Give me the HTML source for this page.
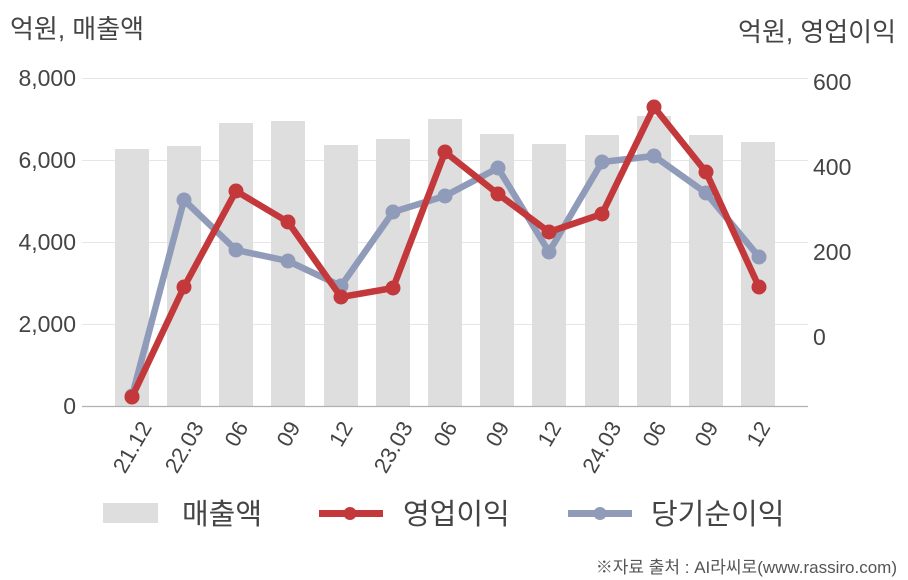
<!DOCTYPE html>
<html>
<head>
<meta charset="utf-8">
<style>
  html, body { margin: 0; padding: 0; background: #ffffff; }
  svg { display: block; }
  text { font-family: "Liberation Sans", "Noto Sans CJK KR", sans-serif; fill: #444444; }
</style>
</head>
<body>
<svg width="908" height="580" viewBox="0 0 908 580" xmlns="http://www.w3.org/2000/svg">
  <rect x="0" y="0" width="908" height="580" fill="#ffffff"/>

  <!-- titles -->
  <text x="10" y="38" font-size="26">억원, 매출액</text>
  <text x="896" y="41" font-size="26" text-anchor="end">억원, 영업이익</text>

  <!-- gridlines -->
  <g stroke="#e6e6e6" stroke-width="1">
    <line x1="82" y1="78.5" x2="808" y2="78.5"/>
    <line x1="82" y1="160.5" x2="808" y2="160.5"/>
    <line x1="82" y1="242.5" x2="808" y2="242.5"/>
    <line x1="82" y1="324.5" x2="808" y2="324.5"/>
  </g>

  <!-- left ticks -->
  <g font-size="23" text-anchor="end">
    <text x="76" y="86">8,000</text>
    <text x="76" y="168">6,000</text>
    <text x="76" y="250">4,000</text>
    <text x="76" y="332">2,000</text>
    <text x="76" y="414">0</text>
  </g>
  <!-- right ticks -->
  <g font-size="23">
    <text x="813" y="90">600</text>
    <text x="813" y="175">400</text>
    <text x="813" y="260">200</text>
    <text x="813" y="345">0</text>
  </g>

  <!-- bars -->
  <g fill="#dedede">
    <rect x="115" y="149" width="34" height="257"/>
    <rect x="167" y="146" width="34" height="260"/>
    <rect x="219" y="123" width="34" height="283"/>
    <rect x="271" y="121" width="34" height="285"/>
    <rect x="324" y="145" width="34" height="261"/>
    <rect x="376" y="139" width="34" height="267"/>
    <rect x="428" y="119" width="34" height="287"/>
    <rect x="480" y="134" width="34" height="272"/>
    <rect x="532" y="144" width="34" height="262"/>
    <rect x="585" y="135" width="34" height="271"/>
    <rect x="637" y="116" width="34" height="290"/>
    <rect x="689" y="135" width="34" height="271"/>
    <rect x="741" y="142" width="34" height="264"/>
  </g>

  <!-- baseline -->
  <line x1="82" y1="406.5" x2="808" y2="406.5" stroke="#b0b0b0" stroke-width="1.2"/>

  <!-- net income (blue) -->
  <polyline fill="none" stroke="#8f9bb8" stroke-width="6.5" stroke-linejoin="round"
    points="132,396 184,200 236,250 288,261 341,286 393,212 445,196 498,168 549,252 602,162 654,156 706,193 759,257"/>
  <g fill="#8f9bb8">
    <circle cx="132" cy="396" r="7.5"/>
    <circle cx="184" cy="200" r="7.5"/>
    <circle cx="236" cy="250" r="7.5"/>
    <circle cx="288" cy="261" r="7.5"/>
    <circle cx="341" cy="286" r="7.5"/>
    <circle cx="393" cy="212" r="7.5"/>
    <circle cx="445" cy="196" r="7.5"/>
    <circle cx="498" cy="168" r="7.5"/>
    <circle cx="549" cy="252" r="7.5"/>
    <circle cx="602" cy="162" r="7.5"/>
    <circle cx="654" cy="156" r="7.5"/>
    <circle cx="706" cy="193" r="7.5"/>
    <circle cx="759" cy="257" r="7.5"/>
  </g>

  <!-- operating profit (red) -->
  <polyline fill="none" stroke="#c3393b" stroke-width="6.5" stroke-linejoin="round"
    points="132,397 184,287 236,191 288,222 341,297 393,288 445,152 498,194 549,232 602,214 654,107 706,172 759,287"/>
  <g fill="#c3393b">
    <circle cx="132" cy="397" r="7.5"/>
    <circle cx="184" cy="287" r="7.5"/>
    <circle cx="236" cy="191" r="7.5"/>
    <circle cx="288" cy="222" r="7.5"/>
    <circle cx="341" cy="297" r="7.5"/>
    <circle cx="393" cy="288" r="7.5"/>
    <circle cx="445" cy="152" r="7.5"/>
    <circle cx="498" cy="194" r="7.5"/>
    <circle cx="549" cy="232" r="7.5"/>
    <circle cx="602" cy="214" r="7.5"/>
    <circle cx="654" cy="107" r="7.5"/>
    <circle cx="706" cy="172" r="7.5"/>
    <circle cx="759" cy="287" r="7.5"/>
  </g>

  <!-- x labels -->
  <g font-size="22" text-anchor="end">
    <text transform="translate(152.5,427) rotate(-60)">21.12</text>
    <text transform="translate(204.5,427) rotate(-60)">22.03</text>
    <text transform="translate(249,427) rotate(-60)">06</text>
    <text transform="translate(301,427) rotate(-60)">09</text>
    <text transform="translate(353.5,427) rotate(-60)">12</text>
    <text transform="translate(413.5,427) rotate(-60)">23.03</text>
    <text transform="translate(458,427) rotate(-60)">06</text>
    <text transform="translate(510,427) rotate(-60)">09</text>
    <text transform="translate(562,427) rotate(-60)">12</text>
    <text transform="translate(622,427) rotate(-60)">24.03</text>
    <text transform="translate(667,427) rotate(-60)">06</text>
    <text transform="translate(719,427) rotate(-60)">09</text>
    <text transform="translate(771,427) rotate(-60)">12</text>
  </g>

  <!-- legend -->
  <rect x="103" y="503" width="55" height="20" fill="#dedede"/>
  <text x="182" y="524" font-size="29">매출액</text>

  <line x1="319" y1="513.5" x2="383" y2="513.5" stroke="#c3393b" stroke-width="7"/>
  <circle cx="350" cy="513.5" r="6.5" fill="#c3393b"/>
  <text x="403" y="524" font-size="29">영업이익</text>

  <line x1="568" y1="513.5" x2="632" y2="513.5" stroke="#8f9bb8" stroke-width="7"/>
  <circle cx="600" cy="513.5" r="6.5" fill="#8f9bb8"/>
  <text x="651" y="524" font-size="29">당기순이익</text>

  <!-- source -->
  <text x="897" y="573" font-size="17" text-anchor="end" style="fill:#555555">※자료 출처 : AI라씨로(www.rassiro.com)</text>
</svg>
</body>
</html>
